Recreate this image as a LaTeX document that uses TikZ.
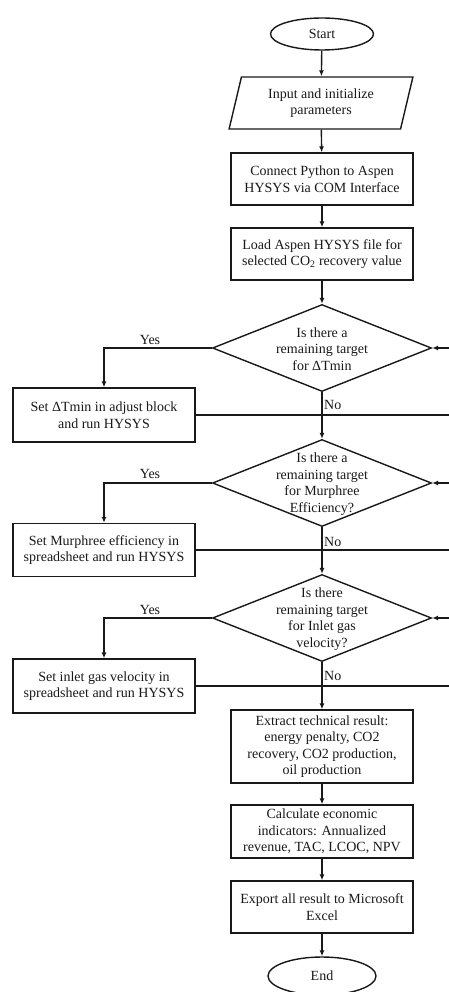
\documentclass[tikz,border=0pt]{standalone}
\usepackage{fontspec}
\setmainfont{Liberation Serif}
\usetikzlibrary{shapes.geometric,arrows.meta}
\begin{document}
\begin{tikzpicture}[x=1pt,y=-1pt,
  every node/.style={font=\fontsize{14}{16.5}\selectfont, text=black!90},
  line/.style={line width=1.4pt,draw=black!90},
  arr/.style={line, -{Latex[length=6pt,width=5pt]}},
  stepbox/.style={rectangle, line, minimum width=182pt, minimum height=52pt, align=center, inner sep=2pt},
  term/.style={ellipse, line, minimum width=103pt, minimum height=32pt, inner sep=0pt},
  decision/.style={diamond, line, minimum width=219pt, minimum height=87pt, inner sep=0pt},
  dtext/.style={align=center, inner sep=0pt},
  lbl/.style={inner sep=1pt}]
\useasboundingbox (0,0) rectangle (449,992);
\fill[white] (0,0) rectangle (449,992);

\node[term] (start) at (322,34) {Start};
\node[trapezium, line, trapezium left angle=75, trapezium right angle=105,
      minimum width=184pt, minimum height=52pt, trapezium stretches=true, align=center, inner sep=1pt]
      (input) at (321,103) {Input and initialize\\parameters};
\node[stepbox] (connect) at (322,179) {Connect Python to Aspen\\HYSYS via COM Interface};
\node[stepbox] (load) at (322,254) {Load Aspen HYSYS file for\\selected CO\textsubscript{2} recovery value};

\node[decision] (d1) at (322,348) {};
\node[dtext] (d1t) at (322,349) {Is there a\\remaining target\\for ΔTmin};
\node[stepbox, minimum height=54pt] (setT) at (104,415) {Set ΔTmin in adjust block\\and run HYSYS};

\node[decision] (d2) at (322,483) {};
\node[dtext] (d2t) at (322,484) {Is there a\\remaining target\\for Murphree\\Efficiency?};
\node[stepbox, minimum height=53pt] (setM) at (104,550) {Set Murphree efficiency in\\spreadsheet and run HYSYS};

\node[decision] (d3) at (322,618) {};
\node[dtext] (d3t) at (322,619) {Is there\\remaining target\\for Inlet gas\\velocity?};
\node[stepbox, minimum height=54pt] (setI) at (104,686) {Set inlet gas velocity in\\spreadsheet and run HYSYS};

\node[stepbox, minimum height=73pt] (extract) at (322,746.5) {Extract technical result:\\energy penalty, CO2\\recovery, CO2 production,\\oil production};
\node[stepbox, minimum height=53pt] (calc) at (322,831.5) {Calculate economic\\indicators: Annualized\\revenue, TAC, LCOC, NPV};
\node[stepbox] (export) at (322,907) {Export all result to Microsoft\\Excel};
\node[term, minimum width=108pt, minimum height=38pt] (end) at (322,976) {End};

% main flow
\draw[arr] (start) -- (input);
\draw[arr] (input) -- (connect);
\draw[arr] (connect) -- (load);
\draw[arr] (load) -- (d1);
\draw[arr] (d1.south) -- (d2.north);
\draw[arr] (d2.south) -- (d3.north);
\draw[arr] (d3.south) -- (extract.north);
\draw[arr] (extract) -- (calc);
\draw[arr] (calc) -- (export);
\draw[arr] (export) -- (end);

% yes branches
\draw[arr] (d1.west) -| (setT.north);
\draw[arr] (d2.west) -| (setM.north);
\draw[arr] (d3.west) -| (setI.north);
\node[lbl] (y1) at (150,340) {Yes};
\node[lbl] (y2) at (150,474) {Yes};
\node[lbl] (y3) at (150,610) {Yes};

% no labels
\node[lbl, anchor=west] (n1) at (323,405) {No};
\node[lbl, anchor=west] (n2) at (323,542) {No};
\node[lbl, anchor=west] (n3) at (323,676) {No};

% loop-back lines to the right edge
\coordinate (r1) at (449,415);
\coordinate (r1t) at (449,348);
\coordinate (r2) at (449,550);
\coordinate (r2t) at (449,483);
\coordinate (r3) at (449,686);
\coordinate (r3t) at (449,618);
\draw[line] (setT.east) -- (r1);
\draw[line] (setM.east) -- (r2);
\draw[line] (setI.east) -- (r3);
\draw[arr] (r1t) -- (d1.east);
\draw[arr] (r2t) -- (d2.east);
\draw[arr] (r3t) -- (d3.east);
\end{tikzpicture}
\end{document}
